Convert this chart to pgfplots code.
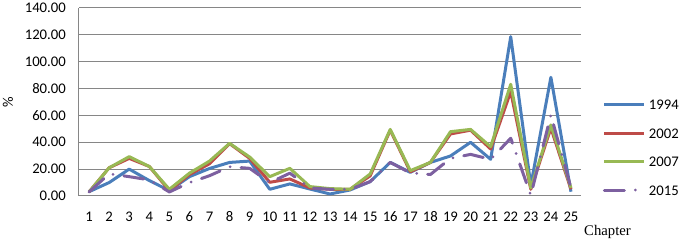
\documentclass[border=0pt]{standalone}
\usepackage{pgfplots}
\pgfplotsset{compat=1.18}
\usepackage{pgfplotstable}
\usepackage{fontspec}
\setmainfont{Carlito}
\newfontfamily\timesfont{Liberation Serif}
\definecolor{cA}{HTML}{4A7EBB}
\definecolor{cB}{HTML}{BE4B48}
\definecolor{cC}{HTML}{98B954}
\definecolor{cD}{HTML}{7D60A0}
\definecolor{gridc}{HTML}{868686}
\pgfplotstableread{
x y1994 y2002 y2007 y2015
1 3.2 3 3 3
2 10 21 21 16.5
3 20 28 29.3 14.4
4 11.5 22 22 12
5 4 4 5 3
6 14.4 16 17 10
7 20.5 24 26 15.1
8 25 39 39.2 21.8
9 26 28 29 20.6
10 5 10.2 14.4 9.9
11 9 12.7 20.6 17
12 5.2 6 7 6
13 1.5 5 5.5 5
14 4.5 5 5 5
15 10.7 15 16.4 10.7
16 25 49 49.6 25
17 17.6 18 18.9 17.2
18 25 25 25 16
19 29.8 46.2 47.9 28
20 40 49 49.6 31
21 27.3 35 36.7 27.3
22 118.6 77.7 83.2 43
23 8 5 6 0.5
24 88.4 50.6 52.9 60.3
25 3.2 5 6 6
}\datatable
\begin{document}
\fontsize{14.7}{17}\selectfont
\begin{tikzpicture}
\useasboundingbox (-79pt,-49pt) rectangle (605pt,196pt);
\begin{axis}[
  scale only axis,
  width=502pt, height=188pt,
  xmin=0.5, xmax=25.5,
  ymin=0, ymax=140,
  xtick={1,...,25},
  ytick={0,20,...,140},
  axis x line*=bottom, axis y line*=left,
  axis line style={draw=gridc, line width=1pt, -},
  ymajorgrids,
  grid style={draw=gridc, line width=1pt},
  major tick length=0pt,
  /pgf/number format/assume math mode=true,
  yticklabel={\pgfmathprintnumber[fixed,fixed zerofill,precision=2]{\tick}},
  tick label style={font=\fontsize{14.7}{17}\selectfont},
  yticklabel style={inner sep=0pt, xshift=-13pt},
  xticklabel style={inner sep=0pt, yshift=-15.5pt},
  ylabel={\%},
  ylabel style={at={(rel axis cs:-0.1414,0.5)}, anchor=center, inner sep=0pt, font=\fontsize{14.7}{17}\selectfont},
  clip=false,
  legend style={draw=none, fill=none, at={(rel axis cs:1.0432,0.258)}, anchor=west,
    inner sep=0pt, font=\fontsize{14.7}{17}\selectfont,
    nodes={inner sep=0pt, text height=10pt, text depth=0pt},
    row sep=18.4pt},
  legend cell align=left,
  legend image code/.code={\draw[#1] (0pt,0pt) -- (40pt,0pt);},
  every axis plot/.append style={line width=3pt, line join=round, no markers},
]
\addplot[cA] table[x=x,y=y1994]{\datatable};
\addlegendentry{\hspace{3pt}1994}
\addplot[cB] table[x=x,y=y2002]{\datatable};
\addlegendentry{\hspace{3pt}2002}
\addplot[cC] table[x=x,y=y2007]{\datatable};
\addlegendentry{\hspace{3pt}2007}
\addplot[cD, line cap=round, dash pattern=on 20pt off 11pt on 0pt off 11pt] table[x=x,y=y2015]{\datatable};
\addlegendentry{\hspace{3pt}2015}
\node[anchor=base west, inner sep=0pt, font=\timesfont\fontsize{14.7}{17}\selectfont] at (rel axis cs:1.006,0) [yshift=-40pt] {Chapter};
\end{axis}
\end{tikzpicture}
\end{document}
